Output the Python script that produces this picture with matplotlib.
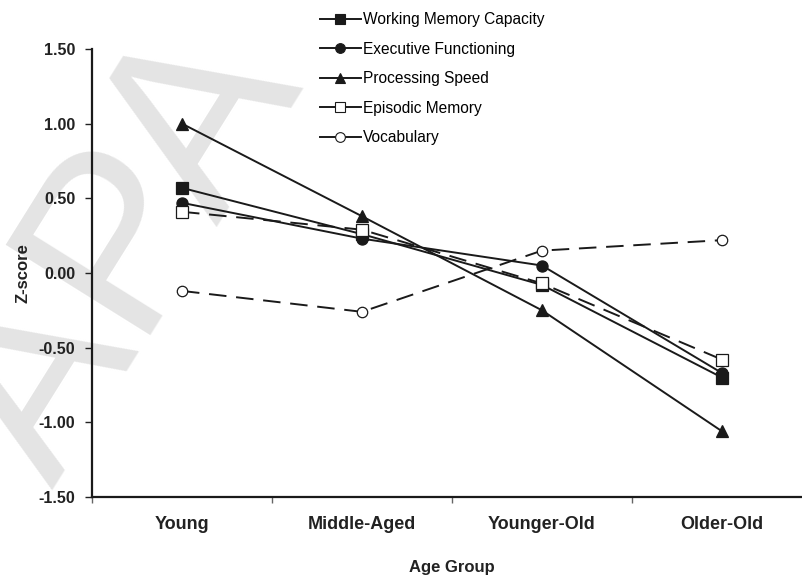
import matplotlib
matplotlib.use("Agg")
import matplotlib.pyplot as plt
from matplotlib.lines import Line2D

plt.rcParams['font.family'] = ['Liberation Sans', 'DejaVu Sans']

groups = ['Young', 'Middle-Aged', 'Younger-Old', 'Older-Old']
series_names = ['Working Memory Capacity', 'Executive Functioning',
                'Processing Speed', 'Episodic Memory', 'Vocabulary']
working_memory = [0.57, 0.26, -0.08, -0.70]
executive = [0.47, 0.23, 0.05, -0.67]
processing = [1.00, 0.38, -0.25, -1.06]
episodic = [0.41, 0.29, -0.07, -0.58]
vocabulary = [-0.12, -0.26, 0.15, 0.22]
yticks = [-1.5, -1.0, -0.5, 0.0, 0.5, 1.0, 1.5]

fig = plt.figure(figsize=(8.03, 5.78), dpi=100)

# faint watermark behind everything
fig.text(0.156, 0.559, 'APA', fontsize=178, color='#e4e4e4', rotation=58,
         rotation_mode='anchor', ha='center', va='center', zorder=-1,
         family='Liberation Sans')

ax = fig.add_axes([92 / 803, 1 - 497 / 578, 720 / 803, 448 / 578])
ax.patch.set_alpha(0)

x = [0.5, 1.5, 2.5, 3.5]
data = [working_memory, executive, processing, episodic, vocabulary]
markers = ['s', 'o', '^', 's', 'o']
faces = ['#1a1a1a', '#1a1a1a', '#1a1a1a', 'white', 'white']
styles = ['-', '-', '-', (0, (9, 5)), (0, (9, 5))]
sizes = [8, 8, 8.5, 8, 7.5]

for vals, m, fc, ls, ms in zip(data, markers, faces, styles, sizes):
    ax.plot(x, vals, color='#1a1a1a', lw=1.4, linestyle=ls, marker=m,
            markersize=ms, markerfacecolor=fc, markeredgecolor='#1a1a1a',
            markeredgewidth=0.9, clip_on=False)

ax.set_xlim(0, 4)
ax.set_ylim(-1.5, 1.5)
ax.set_yticks(yticks)
ax.set_yticklabels(['%.2f' % v for v in yticks], fontsize=11.5, fontweight='bold',
                   color='#222222')
ax.set_xticks([0, 1, 2, 3, 4])
ax.set_xticklabels([])
ax.set_xticks(x, minor=True)
ax.set_xticklabels(groups, minor=True, fontsize=13, fontweight='bold',
                   color='#222222')
ax.tick_params(axis='x', which='minor', length=0, pad=14)
ax.tick_params(axis='x', which='major', length=4, color='#666666', width=1)
ax.tick_params(axis='y', length=5, width=1, color='#222222', pad=7)

for side in ['top', 'right']:
    ax.spines[side].set_visible(False)
for side in ['left', 'bottom']:
    ax.spines[side].set_linewidth(1.6)
    ax.spines[side].set_color('#1a1a1a')

ax.set_xlabel('Age Group', fontsize=12, fontweight='bold', labelpad=19,
              color='#222222')
ax.set_ylabel('Z-score', fontsize=12, fontweight='bold', labelpad=6,
              color='#222222')

handles = [Line2D([], [], color='#1a1a1a', lw=1.4, marker=m, markersize=7,
                  markerfacecolor=fc, markeredgecolor='#1a1a1a',
                  markeredgewidth=0.8)
           for m, fc in zip(markers, faces)]
fig.legend(handles, series_names, loc='upper left',
           bbox_to_anchor=(314 / 803, 1 - 6 / 578), frameon=False,
           fontsize=11.2, handlelength=2.6, handletextpad=0.15,
           labelspacing=0.93, borderaxespad=0)

fig.savefig('out.png', dpi=100)
